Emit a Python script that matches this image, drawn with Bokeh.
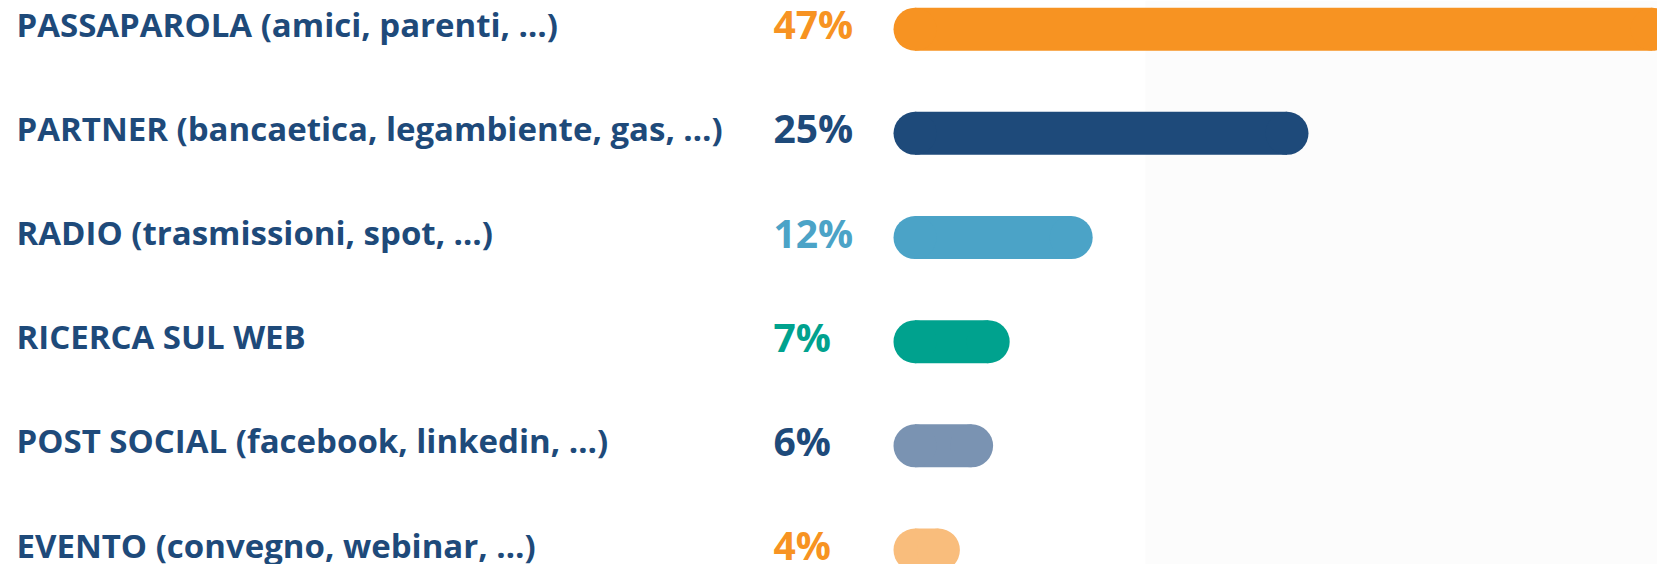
from bokeh.plotting import figure
from bokeh.models import Range1d, ColumnDataSource, BoxAnnotation
from bokeh.core.properties import value
from bokeh.embed import file_html
from bokeh.resources import INLINE

categories = [
    "PASSAPAROLA (amici, parenti, …)",
    "PARTNER (bancaetica, legambiente, gas, …)",
    "RADIO (trasmissioni, spot, …)",
    "RICERCA SUL WEB",
    "POST SOCIAL (facebook, linkedin, …)",
    "EVENTO (convegno, webinar, …)",
]
values = [47, 25, 12, 7, 6, 4]
pct_labels = ["47%", "25%", "12%", "7%", "6%", "4%"]
bar_colors = ["#F79322", "#1E4A7A", "#4BA3C7", "#00A28E", "#7A93B2", "#F9BD7C"]
pct_colors = ["#F79322", "#1E4A7A", "#4BA3C7", "#00A28E", "#1E4A7A", "#F79322"]
NAVY = "#1E4A7A"

W, H = 1657, 564
PX_PER_PCT = 16.6          # horizontal scale
BAR_ORIGIN_PX = 893        # where 0% sits within the figure
ROW_PX = 104.16            # vertical spacing per row
FIRST_ROW_PX = 28.7        # center of first row from top
BAR_H_PX = 43

x_start = -BAR_ORIGIN_PX / PX_PER_PCT
x_end = x_start + W / PX_PER_PCT
y_top = -FIRST_ROW_PX / ROW_PX
y_bottom = y_top + H / ROW_PX

p = figure(width=W, height=H, output_backend="svg", toolbar_location=None,
           x_range=Range1d(x_start, x_end), y_range=Range1d(y_bottom, y_top),
           x_axis_location=None, y_axis_location=None, min_border=0)
p.grid.visible = False
p.outline_line_color = None
p.background_fill_color = "#FFFFFF"
p.border_fill_color = "#FFFFFF"

# faint off-white panel on the right
p.add_layout(BoxAnnotation(left=(1145 - BAR_ORIGIN_PX) / PX_PER_PCT, fill_color="#FCFCFC",
                           fill_alpha=1, line_color=None, level="underlay"))

idx = list(range(len(categories)))
r = (BAR_H_PX / 2) / PX_PER_PCT
bar_h = BAR_H_PX / ROW_PX

src = ColumnDataSource(dict(
    y=idx,
    left=[r] * len(values),
    right=[v - r for v in values],
    cap_l=[r] * len(values),
    cap_r=[v - r for v in values],
    color=bar_colors,
    pcolor=pct_colors,
    label=categories,
    pct=pct_labels,
    ty=[i - 5.0 / ROW_PX for i in idx],
    pty=[i - 5.5 / ROW_PX for i in idx],
    tx=[(16 - BAR_ORIGIN_PX) / PX_PER_PCT] * len(values),
    px=[(773 - BAR_ORIGIN_PX) / PX_PER_PCT] * len(values),
))

p.hbar(y="y", left="left", right="right", height=bar_h, fill_color="color",
       line_color=None, source=src)
p.scatter(x="cap_l", y="y", size=BAR_H_PX, marker="circle", fill_color="color",
          line_color=None, source=src)
p.scatter(x="cap_r", y="y", size=BAR_H_PX, marker="circle", fill_color="color",
          line_color=None, source=src)

p.text(x="tx", y="ty", text="label", text_font=value("Open Sans"), text_font_style="bold",
       text_font_size="33px", text_color=NAVY, text_baseline="alphabetic",
       text_align="left", source=src)
p.text(x="px", y="pty", text="pct", text_font=value("Open Sans"), text_font_style="bold",
       text_font_size="39px", text_color="pcolor", text_baseline="alphabetic",
       text_align="left", source=src)

open("out.html", "w").write(file_html(p, INLINE))
